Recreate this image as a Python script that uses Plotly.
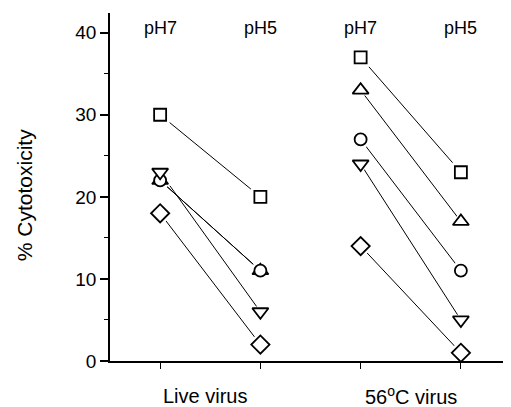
import plotly.graph_objects as go

# Conditions (x positions) and their labels
conditions = ["Live pH7", "Live pH5", "56C pH7", "56C pH5"]
ph_labels = ["pH7", "pH5", "pH7", "pH5"]
group_labels = ["Live virus", "56<sup>o</sup>C virus"]
group_centers = [1.45, 3.5]

# Series values (% cytotoxicity) per condition
square = [30, 20, 37, 23]
triangle_up = [22, 11, 33, 17]
circle = [22, 11, 27, 11]
triangle_down = [23, 6, 24, 5]
diamond = [18, 2, 14, 1]

series = [
    ("square", square, 12),
    ("triangle-up", triangle_up, 14),
    ("circle", circle, 12),
    ("triangle-down", triangle_down, 14),
    ("diamond", diamond, 14),
]

xpos = list(range(1, len(conditions) + 1))

fig = go.Figure()

# connecting lines: pairs within each virus group
for sym, vals, size in series:
    xs = [xpos[0], xpos[1], None, xpos[2], xpos[3]]
    ys = [vals[0], vals[1], None, vals[2], vals[3]]
    fig.add_trace(go.Scatter(x=xs, y=ys, mode="lines",
                             line=dict(color="black", width=1),
                             showlegend=False, hoverinfo="skip"))
# white halos to create small gaps around markers
for sym, vals, size in series:
    fig.add_trace(go.Scatter(x=xpos, y=vals, mode="markers",
                             marker=dict(symbol=sym, size=size + 7, color="white",
                                         line=dict(width=0)),
                             showlegend=False, hoverinfo="skip"))
# markers
for sym, vals, size in series:
    fig.add_trace(go.Scatter(x=xpos, y=vals, mode="markers",
                             marker=dict(symbol=sym, size=size, color="white",
                                         line=dict(color="black", width=1.8)),
                             showlegend=False))

font_family = "Liberation Sans, Arial, sans-serif"

annotations = []
for x, lab in zip(xpos, ph_labels):
    annotations.append(dict(x=x, y=40.6, xref="x", yref="y", text=lab,
                            showarrow=False, font=dict(size=18, color="black")))
for xc, lab in zip(group_centers, group_labels):
    annotations.append(dict(x=xc, y=-0.1, xref="x", yref="paper", text=lab,
                            showarrow=False, yanchor="middle",
                            font=dict(size=20, color="black")))
annotations.append(dict(x=0, y=20.2, xref="paper", yref="y", xanchor="center",
                        xshift=-86, text="% Cytotoxicity", textangle=-90,
                        showarrow=False, font=dict(size=21, color="black")))

# page body adds an 8px offset, so the figure is sized to fit the window
fig.update_layout(
    width=503, height=399,
    margin=dict(l=102, r=0, t=5, b=46),
    paper_bgcolor="white", plot_bgcolor="white",
    font=dict(family=font_family, color="black"),
    annotations=annotations,
    showlegend=False,
)
fig.update_xaxes(range=[0.5, 4.5], tickvals=xpos, showticklabels=False,
                 ticks="outside", ticklen=6, tickwidth=1, tickcolor="black",
                 showline=True, linecolor="black", linewidth=1.5,
                 showgrid=False, zeroline=False)
fig.update_yaxes(range=[0, 42.4], tickvals=[0, 10, 20, 30, 40],
                 ticks="outside", ticklen=8, tickwidth=1.5, tickcolor="black",
                 tickfont=dict(size=19, color="black"),
                 minor=dict(tickvals=[5, 15, 25, 35], ticks="outside", ticklen=4,
                            tickcolor="black", tickwidth=1),
                 showline=True, linecolor="black", linewidth=1.5,
                 showgrid=False, zeroline=False)

fig.write_html("out.html")
